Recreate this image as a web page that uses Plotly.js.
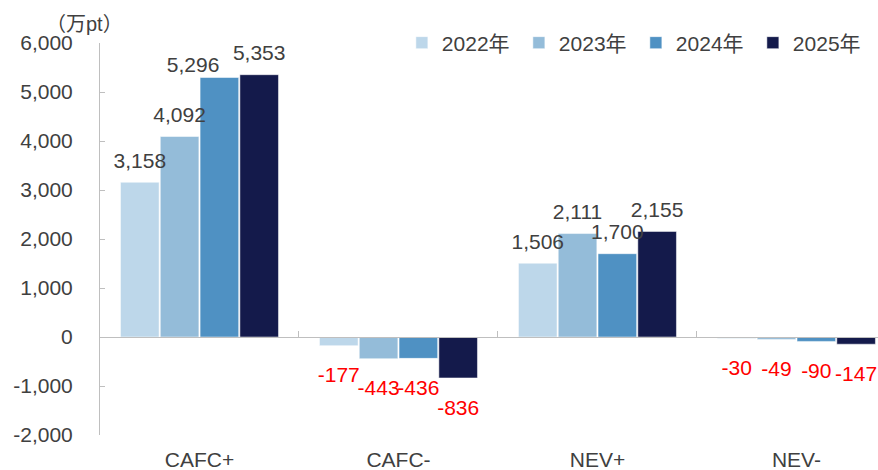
<!DOCTYPE html>
<html><head><meta charset="utf-8">
<script src="https://cdn.plot.ly/plotly-3.0.1.min.js"></script>
<style>html,body{margin:0;padding:0;background:#fff}#chart{width:878px;height:470px}</style>
</head><body><div id="chart"></div>
<script>
const categories = ['CAFC+', 'CAFC-', 'NEV+', 'NEV-'];
const years = ['2022年', '2023年', '2024年', '2025年'];
const v2022 = [3158, -177, 1506, -30];
const v2023 = [4092, -443, 2111, -49];
const v2024 = [5296, -436, 1700, -90];
const v2025 = [5353, -836, 2155, -147];
const yTickVals = [-2000, -1000, 0, 1000, 2000, 3000, 4000, 5000, 6000];
const yTickText = ['-2,000', '-1,000', '0', '1,000', '2,000', '3,000', '4,000', '5,000', '6,000'];
const colors = ['#BDD7EA', '#94BCD9', '#4F91C3', '#141A4B'];
const series = [v2022, v2023, v2024, v2025];
const FONT = 'Arial, "Liberation Sans", "Noto Sans CJK SC", sans-serif';
const FS = 21;

const traces = series.map((vals, i) => ({
  type: 'bar', name: years[i], x: categories, y: vals, offsetgroup: String(i),
  marker: {color: colors[i], line: {color: '#ffffff', width: 0.5}},
  hoverinfo: 'skip'
}));
// value labels: text scatter traces (invisible markers set the gap) aligned with bars via offsetgroup
series.forEach((vals, i) => {
  const shifted = (j) => i === 2 && j === 0; // the 5,296 label sits left of its bar in the reference
  traces.push({
    type: 'scatter', mode: 'markers+text', x: categories, y: vals, offsetgroup: String(i),
    showlegend: false, hoverinfo: 'skip', cliponaxis: false,
    text: vals.map(v => v.toLocaleString('en-US')),
    textposition: vals.map((v, j) => v < 0 ? 'bottom center' : (shifted(j) ? 'top left' : 'top center')),
    marker: {size: vals.map((v, j) => v < 0 ? 32 : (shifted(j) ? 0 : 13)), color: 'rgba(0,0,0,0)', line: {width: 0}},
    textfont: {family: FONT, size: FS, color: vals.map(v => v < 0 ? '#FF0000' : '#404040')}
  });
});
// empty helper trace so the boundary-tick axis at y=0 is drawn
traces.push({type: 'scatter', x: [], y: [], xaxis: 'x2', yaxis: 'y', showlegend: false, hoverinfo: 'skip'});

const layout = {
  width: 878, height: 470,
  margin: {l: 100, r: 0, t: 43, b: 35, autoexpand: false},
  paper_bgcolor: '#fff', plot_bgcolor: '#fff',
  barmode: 'group', bargap: 0.2, bargroupgap: 0.03,
  scattermode: 'group', scattergap: 0.2,
  font: {family: FONT, size: FS, color: '#404040'},
  showlegend: true,
  legend: {orientation: 'h', x: 0.388, xanchor: 'left', y: 1.0, yanchor: 'middle',
    font: {family: FONT, size: FS, color: '#404040'}, entrywidth: 72, traceorder: 'normal',
    bgcolor: 'rgba(0,0,0,0)'},
  xaxis: {type: 'category', range: [-0.5, 3.41], autorange: false, showline: false, ticks: '', showgrid: false,
    zeroline: false, ticklabelstandoff: 10, tickfont: {family: FONT, size: FS, color: '#404040'}},
  xaxis2: {overlaying: 'x', anchor: 'free', position: 0.25, range: [-0.5, 3.41], autorange: false,
    tickvals: [0.5, 1.5, 2.5], ticks: 'inside', ticklen: 6, tickcolor: '#BFBFBF',
    showticklabels: false, showline: true, linecolor: '#BFBFBF', linewidth: 1, showgrid: false, zeroline: false},
  yaxis: {range: [-2000, 6000], autorange: false, tickvals: yTickVals, ticktext: yTickText, showgrid: false,
    zeroline: true, zerolinecolor: '#BFBFBF', zerolinewidth: 1, showline: true, linecolor: '#BFBFBF', linewidth: 1, ticks: 'inside',
    ticklen: 5, tickcolor: '#BFBFBF', ticklabelstandoff: 22,
    tickfont: {family: FONT, size: FS, color: '#404040'}},
  annotations: [{text: '（万pt）', xref: 'paper', yref: 'paper', x: -0.02, y: 1.0,
    xanchor: 'center', yanchor: 'bottom', yshift: 6, showarrow: false,
    font: {family: '"Liberation Sans", "Noto Sans CJK SC", sans-serif', size: 20, color: '#404040'}}]
};

Plotly.newPlot('chart', traces, layout, {displayModeBar: false, staticPlot: true});
</script></body></html>
